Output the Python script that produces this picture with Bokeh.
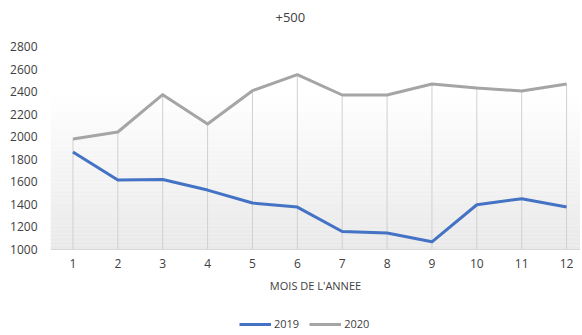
from bokeh.plotting import figure
from bokeh.layouts import column
from bokeh.models import (Range1d, FixedTicker, Legend, LegendItem, BoxAnnotation)
from bokeh.embed import file_html
from bokeh.resources import INLINE

months = list(range(1, 13))
y2019 = [1864, 1616, 1621, 1527, 1412, 1376, 1160, 1146, 1068, 1397, 1450, 1376]
y2020 = [1980, 2042, 2373, 2113, 2408, 2550, 2370, 2370, 2468, 2432, 2405, 2468]
y_ticks = [1000, 1200, 1400, 1600, 1800, 2000, 2200, 2400, 2600, 2800]
series_names = ["2019", "2020"]
title_text = "+500"
x_label = "MOIS DE L'ANNEE"

FONT = "Open Sans"
TXT = "#404040"
C19 = "#4472c4"
C20 = "#a5a5a5"

fig = figure(width=580, height=313, output_backend="svg", toolbar_location=None,
             x_range=Range1d(0.5, 12.31), y_range=Range1d(1000, 2800),
             frame_width=530, frame_height=203,
             min_border_left=50, min_border_right=0, min_border_top=46,
             min_border_bottom=64)
fig.outline_line_color = None
fig.background_fill_color = "white"
fig.border_fill_color = "white"

fig.title.text = title_text + "\n"
fig.title.align = "left"
fig.title.offset = 225
fig.title.vertical_align = "bottom"
fig.title.standoff = 6
fig.title.text_font = FONT
fig.title.text_font_size = "13px"
fig.title.text_font_style = "normal"
fig.title.text_color = TXT

# gradient background (style only)
n = 40
for i in range(n):
    b = 1000 + 1400 * i / n
    t = 1000 + 1400 * (i + 1) / n
    frac = (i + 0.5) / n
    c = int(round(233 + (255 - 233) * frac))
    col = "#%02x%02x%02x" % (c, c, c)
    fig.add_layout(BoxAnnotation(bottom=b, top=t, fill_color=col, fill_alpha=1.0,
                                 line_color=None, level="image"))

fig.xgrid.grid_line_color = None
fig.ygrid.grid_line_color = None

# drop lines
fig.segment(x0=months, y0=[1000] * 12, x1=months, y1=y2020,
            line_color="#d0d0d0", line_width=1)

fig.line(months, y2019, line_color=C19, line_width=3, line_join="round")
fig.line(months, y2020, line_color=C20, line_width=3, line_join="round")

fig.xaxis.ticker = FixedTicker(ticks=months)
fig.yaxis.ticker = FixedTicker(ticks=y_ticks)
for ax in (fig.xaxis, fig.yaxis):
    ax.major_tick_line_color = None
    ax.minor_tick_line_color = None
    ax.major_label_text_font = FONT
    ax.major_label_text_font_size = "12px"
    ax.major_label_text_color = TXT
fig.yaxis.axis_line_color = None
fig.yaxis.major_label_standoff = 7
fig.xaxis.axis_line_color = "#d9d9d9"
fig.xaxis.axis_line_width = 1
fig.xaxis.major_label_standoff = 3
fig.xaxis.axis_label = x_label
fig.xaxis.axis_label_text_font = FONT
fig.xaxis.axis_label_text_font_size = "11px"
fig.xaxis.axis_label_text_font_style = "normal"
fig.xaxis.axis_label_text_color = TXT
fig.xaxis.axis_label_standoff = 7

# legend strip below the chart (its lines lie outside its view; only the legend shows)
leg = figure(width=580, height=22, output_backend="svg", toolbar_location=None,
             x_axis_type=None, y_axis_type=None,
             x_range=Range1d(100, 101), y_range=Range1d(100, 101),
             min_border_left=0, min_border_right=0, min_border_top=0,
             min_border_bottom=0)
leg.outline_line_color = None
leg.grid.grid_line_color = None
leg.background_fill_color = "white"
leg.border_fill_color = "white"
l19 = leg.line(months, y2019, line_color=C19, line_width=3)
l20 = leg.line(months, y2020, line_color=C20, line_width=3)
legend = Legend(items=[LegendItem(label=series_names[0], renderers=[l19]),
                       LegendItem(label=series_names[1], renderers=[l20])],
                orientation="horizontal", location=(189, 4),
                label_text_font=FONT, label_text_font_size="11px",
                label_text_color=TXT, glyph_width=32, glyph_height=12,
                label_height=14, label_standoff=3, spacing=10, padding=0, margin=0,
                border_line_color=None, background_fill_alpha=0)
leg.add_layout(legend, "center")

p = column(fig, leg, spacing=0)

open("out.html", "w").write(file_html(p, INLINE))
